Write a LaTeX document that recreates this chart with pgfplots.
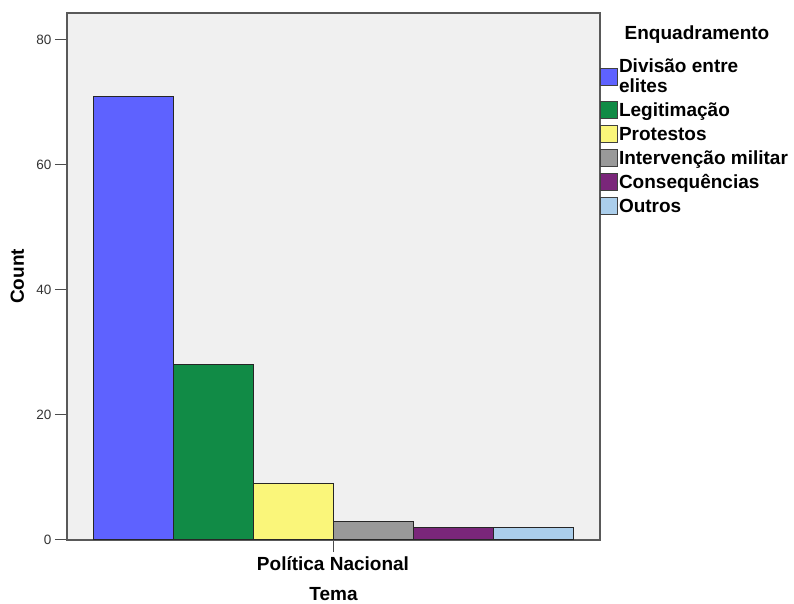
\documentclass[border=0pt]{standalone}
\usepackage{fontspec}
\setmainfont{Liberation Sans}
\usepackage{pgfplots}
\pgfplotsset{compat=1.18}

\definecolor{cBlue}{RGB}{94,98,255}
\definecolor{cGreen}{RGB}{17,139,70}
\definecolor{cYellow}{RGB}{250,246,122}
\definecolor{cGray}{RGB}{153,153,153}
\definecolor{cPurple}{RGB}{122,38,122}
\definecolor{cLight}{RGB}{171,206,235}
\definecolor{bgGray}{RGB}{240,240,240}

\pgfplotsset{
  mybar/.style={ybar, fill=#1, draw=black!85, line width=1pt,
    legend image code/.code={\draw[##1, draw=black!75, line width=1pt] (0pt,-8.5pt) rectangle (17pt,8.5pt);}},
}

\begin{document}
\begin{tikzpicture}
\path[use as bounding box] (-67pt,-64pt) rectangle (727pt,540pt);
\begin{axis}[
  at={(0,0)}, anchor=south west,
  scale only axis, width=533pt, height=527pt,
  xmin=-0.825, xmax=5.8375, ymin=0, ymax=84.32,
  axis background/.style={fill=bgGray},
  axis line style={draw=black!65, line width=1.5pt},
  ytick={0,20,40,60,80},
  xtick={2.5}, xticklabels={Política Nacional},
  xtick pos=bottom, ytick pos=left,
  tick align=outside, major tick length=12pt,
  tick style={draw=black!70, line width=1pt},
  /pgf/number format/assume math mode=true,
  yticklabel style={font=\fontsize{13.5}{16}\selectfont, text=black!80},
  xticklabel style={font=\bfseries\fontsize{19}{20}\selectfont, yshift=-1pt},
  xlabel={Tema}, ylabel={Count},
  label style={font=\bfseries\fontsize{19}{20}\selectfont},
  xlabel style={at={(axis description cs:0.5,-0.102)}, anchor=center, inner sep=0pt},
  ylabel style={at={(axis description cs:-0.093,0.5)}, anchor=center},
  bar width=1, bar shift=0pt,
  legend style={at={(1,1)}, anchor=north west, yshift=-45pt,
    draw=none, fill=none, inner sep=0pt, outer sep=0pt,
    font=\bfseries\fontsize{19}{20}\selectfont,
    nodes={inner sep=1pt}, row sep=6pt,
    /tikz/every even column/.append style={column sep=2pt}},
  legend cell align=left,
  legend style={cells={align=left}},
]
\addplot[mybar=cBlue] coordinates {(0,71)};
\addlegendentry{\strut Divisão entre\\\strut elites}
\addplot[mybar=cGreen] coordinates {(1,28)};
\addlegendentry{\strut Legitimação}
\addplot[mybar=cYellow] coordinates {(2,9)};
\addlegendentry{\strut Protestos}
\addplot[mybar=cGray] coordinates {(3,3)};
\addlegendentry{\strut Intervenção militar}
\addplot[mybar=cPurple] coordinates {(4,2)};
\addlegendentry{\strut Consequências}
\addplot[mybar=cLight] coordinates {(5,2)};
\addlegendentry{\strut Outros}
\end{axis}
\node[font=\bfseries\fontsize{19}{20}\selectfont] at (630pt,505pt) {Enquadramento};
\end{tikzpicture}
\end{document}
